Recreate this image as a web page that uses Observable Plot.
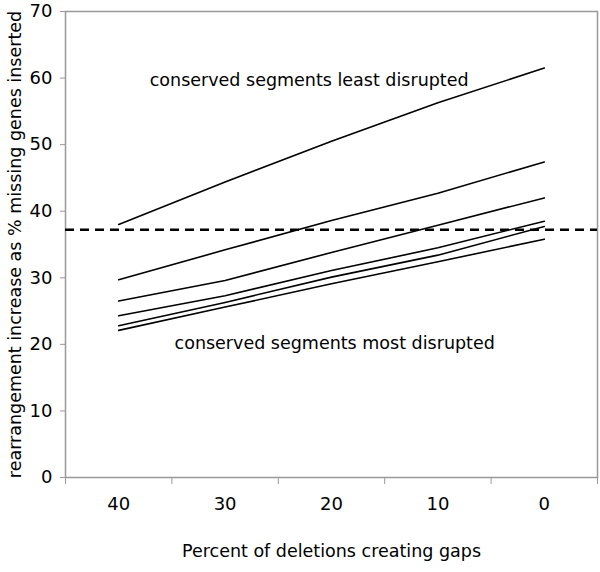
<!DOCTYPE html>
<html>
<head>
<meta charset="utf-8">
<script src="https://cdn.jsdelivr.net/npm/d3@7"></script>
<script src="https://cdn.jsdelivr.net/npm/@observablehq/plot@0.6"></script>
<style>
  html, body { margin: 0; padding: 0; background: white; }
</style>
</head>
<body>
<div id="chart"></div>
<script>
// Categories on x (percent of deletions creating gaps), shown in reverse order
const categories = [40, 30, 20, 10, 0];
// Six series (top to bottom)
const series1 = [38.0, 44.4, 50.5, 56.3, 61.5];
const series2 = [29.7, 34.2, 38.6, 42.7, 47.4];
const series3 = [26.5, 29.6, 33.8, 37.9, 42.0];
const series4 = [24.3, 27.3, 31.1, 34.5, 38.5];
const series5 = [22.8, 26.3, 30.1, 33.4, 37.7];
const series6 = [22.1, 25.6, 29.1, 32.4, 35.8];
const threshold = [37.2];
const yTicks = [0, 10, 20, 30, 40, 50, 60, 70];
const yLabel = "rearrangement increase as % missing genes inserted";
const xLabel = "Percent of deletions creating gaps";
const annotTexts = ["conserved segments least disrupted", "conserved segments most disrupted"];
const annotX = [22.1, 19.7];
const annotY = [59.6, 20.1];

const allSeries = [series1, series2, series3, series4, series5, series6];
const rows = allSeries.flatMap((s, i) => s.map((v, j) => ({series: i, x: categories[j], y: v})));
const step = categories[0] - categories[1];
const edges = [categories[0] + step / 2, ...categories.map(c => c - step / 2)];
const annots = annotTexts.map((t, i) => ({text: t, x: annotX[i], y: annotY[i]}));

const chart = Plot.plot({
  width: 600,
  height: 572,
  marginLeft: 65,
  marginRight: 3,
  marginTop: 11,
  marginBottom: 95,
  style: {fontFamily: "'DejaVu Sans', Verdana, sans-serif", fontSize: "17.5px", background: "white", color: "black"},
  x: {domain: [edges[0], edges[edges.length - 1]]},
  y: {domain: [0, 70]},
  marks: [
    Plot.frame({stroke: "#999", strokeWidth: 1.5}),
    Plot.ruleY(threshold, {stroke: "black", strokeWidth: 2.5, strokeDasharray: "9,6"}),
    Plot.line(rows, {x: "x", y: "y", z: "series", stroke: "black", strokeWidth: 1.6}),
    Plot.text(annots, {x: "x", y: "y", text: "text", fontSize: 17.5, fill: "black"}),
    Plot.axisY({ticks: yTicks, tickSize: 5, tickPadding: 8, stroke: "#999", fontSize: 18, label: null}),
    Plot.axisX({ticks: categories, tickSize: 0, tickPadding: 20, fontSize: 18, label: null}),
    Plot.axisX({ticks: edges, tickSize: 7, tickFormat: () => "", stroke: "#999", label: null}),
    Plot.text([yLabel], {frameAnchor: "left", rotate: -90, dx: -50, textAnchor: "middle", lineAnchor: "middle", fontSize: 17.5, fill: "black"}),
    Plot.text([xLabel], {frameAnchor: "bottom", dy: 74, textAnchor: "middle", lineAnchor: "middle", fontSize: 17.5, fill: "black"})
  ]
});
document.getElementById("chart").appendChild(chart);
</script>
</body>
</html>
